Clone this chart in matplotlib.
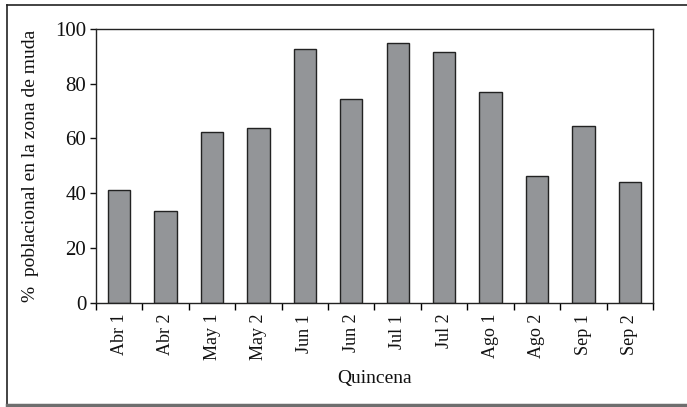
"""Porcentaje poblacional en la zona de muda por quincena."""
import matplotlib
matplotlib.use("Agg")
import matplotlib.pyplot as plt
from matplotlib.lines import Line2D
import numpy as np

quincenas = ["Abr 1", "Abr 2", "May 1", "May 2", "Jun 1", "Jun 2",
             "Jul 1", "Jul 2", "Ago 1", "Ago 2", "Sep 1", "Sep 2"]
porcentaje = [41.1, 33.4, 62.2, 63.9, 92.6, 74.3,
              94.8, 91.7, 77.0, 46.4, 64.4, 44.0]
y_ticks = [0, 20, 40, 60, 80, 100]

plt.rcParams["font.family"] = ["Liberation Serif", "DejaVu Serif"]

fig = plt.figure(figsize=(6.87, 4.07), dpi=100)
ax = fig.add_axes([0.1397, 0.2563, 0.8108, 0.6724])

x = np.arange(len(quincenas))
ax.bar(x, porcentaje, width=0.48, color="#939598",
       edgecolor="#222222", linewidth=1.0)

ax.set_xlim(-0.5, len(quincenas) - 0.5)
ax.set_ylim(0, 100)
ax.set_yticks(y_ticks)
ax.tick_params(axis="y", direction="out", length=4, width=1,
               pad=3, labelsize=15, colors="#111111")

# etiquetas en el centro, marcas entre categorias
ax.set_xticks(x)
ax.set_xticklabels(quincenas, rotation=90, fontsize=13, color="#111111")
ax.tick_params(axis="x", which="major", length=0, pad=8)
ax.set_xticks(np.arange(-0.5, len(quincenas)), minor=True)
ax.tick_params(axis="x", which="minor", direction="out", length=5, width=1)

for s in ax.spines.values():
    s.set_linewidth(1.0)
    s.set_color("#222222")

ax.set_ylabel("%  poblacional en la zona de muda", fontsize=14, color="#111111")
ax.yaxis.set_label_coords(-0.102, 0.5)
ax.set_xlabel("Quincena", fontsize=14, color="#111111")
ax.xaxis.set_label_coords(0.5, -0.245)

# marco exterior
W, H = 687, 407
fig.add_artist(Line2D([7 / W, 7 / W], [2 / H, 1 - 5 / H],
                      color="#222222", lw=1.2, transform=fig.transFigure))
fig.add_artist(Line2D([7 / W, 1], [1 - 5 / H, 1 - 5 / H],
                      color="#222222", lw=1.2, transform=fig.transFigure))
fig.add_artist(Line2D([7 / W, 1], [2 / H, 2 / H],
                      color="#6e6e6e", lw=2.5, transform=fig.transFigure))

fig.savefig("out.png", dpi=100)
